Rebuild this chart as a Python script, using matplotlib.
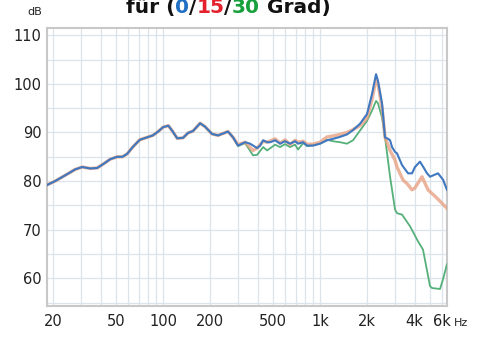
import matplotlib
matplotlib.use("Agg")
import matplotlib.pyplot as plt
from matplotlib.ticker import FixedLocator, NullFormatter

# frequency response of the three measurement angles
# below ~250 Hz all three curves lie on top of each other
low_hz = [18.2, 20.5, 23.8, 27.5, 30.5, 34.3, 38, 41.5, 46, 51, 55, 59, 64, 71, 79, 86,
          93, 100, 108, 114, 123, 134, 144, 155, 172, 185, 205, 224, 259]
low_db = [79.2, 80.0, 81.2, 82.4, 82.9, 82.6, 82.7, 83.5, 84.5, 85.0, 85.0, 85.6, 87.0, 88.5, 89.0, 89.4,
          90.2, 91.1, 91.4, 90.4, 88.8, 88.9, 89.9, 90.3, 91.9, 91.2, 89.7, 89.4, 90.2]

hz_0 = [279, 300, 333, 358, 397, 415, 434, 460, 481, 517, 556, 598, 644, 693, 724, 780,
        827, 902, 1000, 1109, 1211, 1340, 1485, 1622, 1798, 1992, 2143, 2274, 2340, 2484,
        2594, 2712, 2793, 2875, 3006, 3093, 3329, 3636, 3855, 4027, 4333, 4528, 4806, 5020,
        5645, 6073, 6437]
db_0 = [89.0, 87.3, 88.0, 87.7, 86.8, 87.3, 88.4, 88.0, 88.0, 88.4, 87.7, 88.2, 87.7, 88.2, 87.7, 88.0,
        87.3, 87.3, 87.7, 88.4, 88.7, 89.1, 89.6, 90.5, 91.8, 93.8, 97.9, 102.0, 100.6, 95.9,
        89.0, 88.7, 88.4, 87.0, 86.0, 85.7, 83.3, 81.6, 81.6, 82.9, 84.0, 83.0, 81.6, 80.9,
        81.6, 80.3, 78.2]

hz_15 = [279, 300, 333, 374, 397, 434, 460, 517, 556, 598, 644, 693, 724, 780, 827, 902,
         1000, 1109, 1211, 1340, 1485, 1622, 1798, 1992, 2143, 2274, 2340, 2484, 2594, 2793,
         3006, 3093, 3380, 3580, 3855, 4027, 4462, 4876, 5559, 6437]
db_15 = [89.0, 87.5, 88.0, 86.3, 86.8, 88.2, 88.0, 88.7, 87.8, 88.5, 87.5, 88.4, 88.0, 88.2, 87.6, 87.6,
         88.0, 89.1, 89.3, 89.6, 90.0, 90.6, 91.4, 93.0, 96.8, 101.0, 100.0, 95.0, 89.0, 86.3,
         84.3, 82.9, 80.2, 79.5, 78.2, 78.6, 80.9, 78.2, 76.5, 74.4]

hz_30 = [279, 300, 333, 374, 397, 434, 460, 517, 556, 598, 644, 693, 724, 780, 827, 902,
         1000, 1109, 1211, 1340, 1485, 1622, 1798, 1992, 2143, 2274, 2340, 2484, 2594, 2793,
         3006, 3093, 3329, 3743, 4209, 4528, 5020, 5168, 5813, 6073, 6437]
db_30 = [89.0, 87.2, 87.8, 85.3, 85.4, 87.0, 86.3, 87.5, 87.0, 87.6, 87.0, 87.5, 86.5, 87.8, 87.2, 87.4,
         87.7, 88.5, 88.2, 88.0, 87.7, 88.4, 90.4, 92.4, 94.5, 96.5, 96.0, 93.0, 89.0, 80.9,
         74.1, 73.4, 73.1, 70.7, 67.6, 65.9, 58.4, 58.0, 57.8, 59.8, 62.9]

y_ticks = [60, 70, 80, 90, 100, 110]
x_ticks = [20, 50, 100, 200, 500, 1000, 2000, 4000, 6000]
x_labels = ["20", "50", "100", "200", "500", "1k", "2k", "4k", "6k"]

title_parts = [("für (", "#111111"), ("0", "#1f6fc4"), ("/", "#111111"), ("15", "#e3202b"),
               ("/", "#111111"), ("30", "#17a03c"), (" Grad)", "#111111")]

c_0 = "#3f78c0"
c_15 = "#e8a283"
c_30 = "#55b07a"

fig = plt.figure(figsize=(4.81, 3.37), dpi=100)
ax = fig.add_axes([47 / 481, 31 / 337, 400 / 481, 278 / 337])

ax.plot(low_hz + hz_30, low_db + db_30, color=c_30, lw=1.3, zorder=3)
ax.plot(low_hz + hz_15, low_db + db_15, color=c_15, lw=2.4, alpha=0.8, zorder=4)
ax.plot(low_hz + hz_0, low_db + db_0, color=c_0, lw=1.5, zorder=5)

ax.set_xscale("log")
ax.set_xlim(18.2, 6440)
ax.set_ylim(54.3, 111.5)

# grid: 5 dB steps, decades subdivided as in the original sheet
grid_x = list(range(20, 100, 10)) + [100] + list(range(200, 1000, 100)) + [1000] + list(range(2000, 7000, 1000))
ax.xaxis.set_major_locator(FixedLocator(x_ticks))
ax.xaxis.set_minor_locator(FixedLocator(grid_x))
ax.xaxis.set_minor_formatter(NullFormatter())
ax.set_xticklabels(x_labels)
ax.set_yticks(y_ticks)

ax.grid(False)
for gx in grid_x:
    ax.axvline(gx, color="#dde3ea", lw=0.9, zorder=1)
for gy in range(55, 115, 5):
    ax.axhline(gy, color="#dde3ea", lw=0.9, zorder=1)

ax.tick_params(which="both", length=0)
ax.tick_params(axis="x", pad=6, labelsize=10.5, labelcolor="#222222")
ax.tick_params(axis="y", pad=4, labelsize=10.5, labelcolor="#222222")
for s in ax.spines.values():
    s.set_color("#c8c8c8")
    s.set_linewidth(1.5)

fig.text(34.5 / 481, 1 - 12 / 337, "dB", fontsize=8, ha="center", va="center", color="#222222")
fig.text(454 / 481, 1 - 323 / 337, "Hz", fontsize=8, ha="left", va="center", color="#222222")

# multicoloured title, each piece placed after the width of the text before it
fig.canvas.draw()
renderer = fig.canvas.get_renderer()
full = "".join(p for p, _ in title_parts)
tprops = dict(fontsize=14.5, fontweight="bold", va="baseline", ha="left")


def text_width(s):
    t = fig.text(0, 0, s, **tprops)
    w = t.get_window_extent(renderer).width
    t.remove()
    return w


total = text_width(full)
x0 = 228 - total / 2
base_y = 1 - 13 / 337
prefix = ""
for part, col in title_parts:
    off = text_width(prefix) if prefix else 0
    fig.text((x0 + off) / 481, base_y, part, color=col, **tprops)
    prefix += part

fig.savefig("out.png", dpi=100, facecolor="white")
